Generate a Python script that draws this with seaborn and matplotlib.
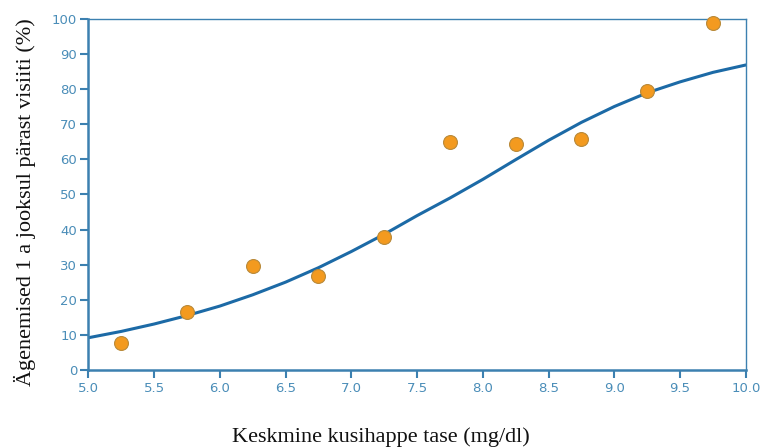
import matplotlib
matplotlib.use("Agg")
import matplotlib.pyplot as plt
import seaborn as sns
import pandas as pd

# Observed points
point_x = [5.25, 5.75, 6.25, 6.75, 7.25, 7.75, 8.25, 8.75, 9.25, 9.75]
point_y = [7.9, 16.6, 29.8, 26.9, 37.8, 64.8, 64.4, 65.9, 79.4, 98.8]

# Fitted curve
curve_x = [5.0, 5.25, 5.5, 5.75, 6.0, 6.25, 6.5, 6.75, 7.0, 7.25, 7.5, 7.75,
           8.0, 8.25, 8.5, 8.75, 9.0, 9.25, 9.5, 9.75, 10.0]
curve_y = [9.3, 11.1, 13.2, 15.6, 18.3, 21.5, 25.1, 29.2, 33.8, 38.7, 44.0, 49.0,
           54.3, 59.9, 65.4, 70.5, 75.0, 78.9, 82.0, 84.7, 86.8]

x_ticks = [5.0, 5.5, 6.0, 6.5, 7.0, 7.5, 8.0, 8.5, 9.0, 9.5, 10.0]
y_ticks = [0, 10, 20, 30, 40, 50, 60, 70, 80, 90, 100]

xlabel = "Keskmine kusihappe tase (mg/dl)"
ylabel = "Ägenemised 1 a jooksul pärast visiiti (%)"

sns.set_style("white")
plt.rcParams['font.family'] = ['DejaVu Sans']

axis_col = "#3c80b0"
tick_col = "#4a8db8"

fig = plt.figure(figsize=(7.65, 4.48), dpi=100)
ax = fig.add_axes([0.1154, 0.173, 0.8596, 0.7857])

curve_df = pd.DataFrame({"x": curve_x, "y": curve_y})
pts_df = pd.DataFrame({"x": point_x, "y": point_y})

sns.lineplot(data=curve_df, x="x", y="y", ax=ax, color="#1c6aa6", linewidth=2.2, zorder=2)
sns.scatterplot(data=pts_df, x="x", y="y", ax=ax, color="#f39a1f", edgecolor="#b98a3a",
                linewidth=0.8, s=100, zorder=3, clip_on=False)

ax.set_xlim(5.0, 10.0)
ax.set_ylim(0, 100)
ax.set_xticks(x_ticks)
ax.set_xticklabels([f"{v:.1f}" for v in x_ticks])
ax.set_yticks(y_ticks)
ax.set_yticklabels([str(v) for v in y_ticks])

for name, sp in ax.spines.items():
    sp.set_visible(True)
    sp.set_color(axis_col)
    sp.set_linewidth(1.8 if name in ("left", "bottom") else 1.0)

ax.tick_params(axis="both", which="major", direction="out", length=6, width=1.5,
               color=axis_col, labelcolor=tick_col, labelsize=9.5, pad=2,
               bottom=True, left=True)

ax.set_xlabel("")
ax.set_ylabel("")
fig.text(0.498, 0.024, xlabel, ha="center", va="center",
         fontsize=16, family="Liberation Serif", color="#111111")
fig.text(0.033, 0.548, ylabel, ha="center", va="center", rotation=90,
         fontsize=16, family="Liberation Serif", color="#111111")

fig.savefig("out.png", dpi=100)
